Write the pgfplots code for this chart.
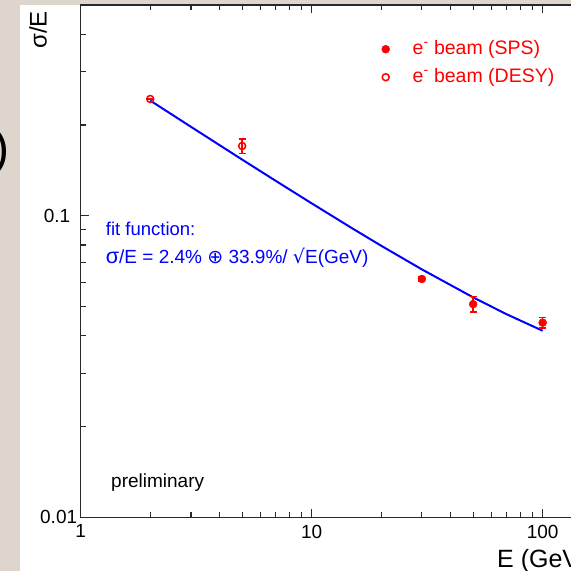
\documentclass[border=0pt]{standalone}
\usepackage{pgfplots}
\pgfplotsset{compat=1.18}
\usepackage{fontspec}
\setmainfont{Liberation Sans}
\newfontfamily\dejavu{DejaVu Sans}
\definecolor{marble}{RGB}{222,214,205}
\definecolor{axgray}{RGB}{40,40,40}
\begin{document}
\begin{tikzpicture}[x=1pt,y=1pt]
\fill[marble] (-80.7,-53.7) rectangle (490.3,517.3);
\fill[white] (-60.7,-53.7) rectangle (490.3,512.3);
\node[anchor=east, font=\fontsize{48}{48}\selectfont, inner sep=0pt] at (-70.7,365) {)};
\begin{axis}[
  at={(0pt,0pt)}, anchor=south west,
  scale only axis, width=531.5pt, height=512.4pt,
  xmode=log, ymode=log,
  xmin=1, xmax=200, ymin=0.01, ymax=0.5,
  xtick={1,10,100}, xticklabels={1,10,100},
  minor xtick={2,3,4,5,6,7,8,9,20,30,40,50,60,70,80,90,200},
  ytick={0.01,0.1}, yticklabels={0.01,{0.1\hspace*{7pt}}},
  minor ytick={0.02,0.03,0.04,0.05,0.06,0.07,0.08,0.09,0.2,0.3,0.4},
  tick align=inside,
  major tick length=8pt, minor tick length=5pt,
  every tick/.style={line width=1.2pt, axgray},
  axis line style={line width=1.5pt, axgray},
  ticklabel style={font=\fontsize{19}{19}\selectfont},
  /pgf/number format/assume math mode=true,
  xticklabel style={yshift=-4pt},
  legend cell align=left,
  legend style={draw=none, fill=none, inner sep=0pt,
    at={(0.566,0.9315)}, anchor=north west,
    font=\fontsize{19.5}{19.5}\selectfont, text=red,
    nodes={inner sep=0pt, text height=14pt, text depth=4pt},
    row sep=10pt, column sep=23pt},
]
\addplot[blue, line width=2pt, no marks, forget plot] coordinates {
  (2,0.2409) (3,0.1972) (5,0.1535) (7,0.1304) (10,0.1099) (15,0.09076)
  (20,0.07951) (30,0.06638) (50,0.05361) (70,0.04709) (100,0.04154)
};
\addplot[red, only marks, mark=*, mark size=4pt,
  error bars/.cd, y dir=both, y explicit,
  error bar style={line width=1.5pt, red},
  error mark options={rotate=90, mark size=3.5pt, line width=1.5pt, red}]
  coordinates {
  (30,0.0617) +- (0,0.0009)
  (50,0.0509) +- (0,0.003)
  (100,0.0442) +- (0,0.0017)
};
\addlegendentry{e\textsuperscript{-} beam (SPS)}
\addplot[red, only marks, mark=o, mark size=3.5pt, line width=1.5pt,
  error bars/.cd, y dir=both, y explicit,
  error bar style={line width=1.5pt, red},
  error mark options={rotate=90, mark size=3.5pt, line width=1.5pt, red}]
  coordinates {
  (2,0.2438) +- (0,0)
  (5,0.1703) +- (0,0.0095)
};
\addlegendentry{e\textsuperscript{-} beam (DESY)}
\end{axis}
\node[anchor=base west, text=blue, font=\fontsize{18.5}{18.5}\selectfont, inner sep=0pt] at (25,281.3) {fit function:};
\node[anchor=base west, text=blue, font=\fontsize{19}{19}\selectfont, inner sep=0pt] at (25,253.3) {{\fontsize{21.5}{21.5}\selectfont σ}/E = 2.4\% {\dejavu ⊕} 33.9\%/ {\dejavu √}E(GeV)};
\node[anchor=base west, font=\fontsize{19}{19}\selectfont, inner sep=0pt] at (30.3,29.3) {preliminary};
\node[anchor=base west, font=\fontsize{25}{25}\selectfont, inner sep=0pt] at (416.3,-50.7) {E (GeV)};
\node[rotate=90, font=\fontsize{24}{24}\selectfont, inner sep=0pt] at (-42.7,487.3) {σ/E};
\pgfresetboundingbox
\useasboundingbox (-80.7,-53.7) rectangle (490.3,517.3);
\end{tikzpicture}
\end{document}
